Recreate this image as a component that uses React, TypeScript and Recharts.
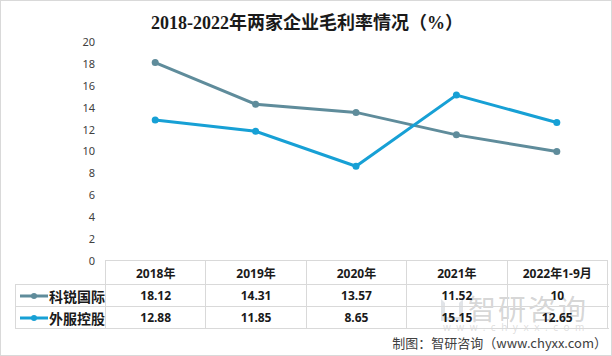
import React from "react";
import { LineChart, Line, XAxis, YAxis } from "recharts";

const categories = ["2018年", "2019年", "2020年", "2021年", "2022年1-9月"];
const keruiValues = [18.12, 14.31, 13.57, 11.52, 10];
const waifuValues = [12.88, 11.85, 8.65, 15.15, 12.65];
const yTicks = [0, 2, 4, 6, 8, 10, 12, 14, 16, 18, 20];
const seriesNames = ["科锐国际", "外服控股"];
const keruiLabels = ["18.12", "14.31", "13.57", "11.52", "10"];
const waifuLabels = ["12.88", "11.85", "8.65", "15.15", "12.65"];

const C1 = "#5f8c9b";
const C2 = "#17a0d5";

const data = categories.map((c, i) => ({ name: c, kr: keruiValues[i], wf: waifuValues[i] }));

const W = 612;
const H = 356;
const PLOT_LEFT = 105;
const PLOT_RIGHT = 607;
const COL_W = (PLOT_RIGHT - PLOT_LEFT) / categories.length;
const BORDER = "#d9d9d9";

const cellFont = '"Noto Sans", "Noto Sans CJK SC", sans-serif';

function Marker({ color }: { color: string }) {
  return (
    <svg width={30} height={10} style={{ display: "block" }}>
      <line x1={1} y1={5} x2={29} y2={5} stroke={color} strokeWidth={3} />
      <circle cx={15} cy={5} r={3} fill={color} />
    </svg>
  );
}

export default function App() {
  const rows = [
    { name: seriesNames[0], color: C1, labels: keruiLabels },
    { name: seriesNames[1], color: C2, labels: waifuLabels },
  ];
  return (
    <div
      style={{
        position: "absolute",
        left: 0,
        top: 0,
        width: W,
        height: H,
        background: "#fff",
        boxSizing: "border-box",
        border: "1px solid #d9d9d9",
        overflow: "hidden",
      }}
    >
      <div
        style={{
          position: "absolute",
          left: 0,
          top: 10,
          width: W,
          textAlign: "center",
          fontFamily: '"Liberation Serif", "Noto Sans CJK SC", serif',
          fontWeight: "bold",
          fontSize: 18,
          color: "#1a1a1a",
          lineHeight: "24px",
        }}
      >
        2018-2022年两家企业毛利率情况（%）
      </div>
      <div style={{ position: "absolute", left: -1, top: -1 }}>
        <LineChart
          width={W}
          height={H}
          data={data}
          margin={{ top: 42, right: W - PLOT_RIGHT, bottom: 95, left: 0 }}
        >
          <XAxis dataKey="name" hide padding={{ left: COL_W / 2, right: COL_W / 2 }} />
          <YAxis
            width={PLOT_LEFT}
            domain={[0, 20]}
            ticks={yTicks}
            axisLine={false}
            tickLine={false}
            interval={0}
            tick={{ fontSize: 11, fill: "#404040", fontFamily: cellFont, dx: -2 }}
          />
          <Line
            type="linear"
            dataKey="kr"
            stroke={C1}
            strokeWidth={3}
            dot={{ r: 3.5, fill: C1, stroke: C1, strokeWidth: 0 }}
            isAnimationActive={false}
          />
          <Line
            type="linear"
            dataKey="wf"
            stroke={C2}
            strokeWidth={3}
            dot={{ r: 3.5, fill: C2, stroke: C2, strokeWidth: 0 }}
            isAnimationActive={false}
          />
        </LineChart>
      </div>
      {/* data table */}
      <div style={{ position: "absolute", left: 0, top: 0, width: W, height: H, pointerEvents: "none" }}>
        {/* watermark (behind table text) */}
        <div
          style={{
            position: "absolute",
            left: 440,
            top: 298,
            width: 22,
            height: 22,
            border: "4px solid rgba(170,180,190,0.35)",
            boxSizing: "border-box",
            borderTopColor: "transparent",
          }}
        />
        <div
          style={{
            position: "absolute",
            left: 467,
            top: 291,
            fontFamily: '"Noto Sans CJK SC", sans-serif',
            fontSize: 28,
            color: "rgba(150,150,150,0.4)",
            letterSpacing: 2,
            lineHeight: "32px",
            whiteSpace: "nowrap",
          }}
        >
          智研咨询
        </div>
        <div
          style={{
            position: "absolute",
            left: 442,
            top: 321,
            fontFamily: '"Noto Sans", sans-serif',
            fontSize: 10,
            lineHeight: "10px",
            color: "rgba(160,160,160,0.35)",
            letterSpacing: 5.5,
            whiteSpace: "nowrap",
          }}
        >
          www.chyxx.com
        </div>
        {/* header row */}
        <div
          style={{
            position: "absolute",
            left: PLOT_LEFT - 1,
            top: 259,
            width: PLOT_RIGHT - PLOT_LEFT,
            height: 24,
            display: "flex",
            borderTop: `1px solid ${BORDER}`,
            borderLeft: `1px solid ${BORDER}`,
          }}
        >
          {categories.map((c) => (
            <div
              key={c}
              style={{
                width: COL_W,
                borderRight: `1px solid ${BORDER}`,
                boxSizing: "border-box",
                textAlign: "center",
                fontFamily: cellFont,
                fontWeight: "bold",
                fontSize: 12,
                lineHeight: "25px",
                color: "#1a1a1a",
              }}
            >
              {c}
            </div>
          ))}
        </div>
        {rows.map((r, ri) => (
          <div
            key={r.name}
            style={{
              position: "absolute",
              left: 14,
              top: 283 + ri * 22,
              width: PLOT_RIGHT - 14,
              height: 21,
              display: "flex",
              borderTop: `1px solid ${BORDER}`,
              borderLeft: `1px solid ${BORDER}`,
              borderBottom: ri === rows.length - 1 ? `1px solid ${BORDER}` : "none",
              boxSizing: "content-box",
            }}
          >
            <div
              style={{
                width: PLOT_LEFT - 15,
                borderRight: `1px solid ${BORDER}`,
                boxSizing: "border-box",
                display: "flex",
                alignItems: "center",
                paddingLeft: 3,
                fontFamily: '"Noto Sans CJK SC", sans-serif',
                fontWeight: "bold",
                fontSize: 14,
                color: "#1a1a1a",
              }}
            >
              <Marker color={r.color} />
              <span>{r.name}</span>
            </div>
            {r.labels.map((v, i) => (
              <div
                key={i}
                style={{
                  width: COL_W,
                  borderRight: `1px solid ${BORDER}`,
                  boxSizing: "border-box",
                  textAlign: "center",
                  fontFamily: cellFont,
                  fontWeight: "bold",
                  fontSize: 12,
                  lineHeight: "22px",
                  color: "#1a1a1a",
                }}
              >
                {v}
              </div>
            ))}
          </div>
        ))}
        {/* source */}
        <div
          style={{
            position: "absolute",
            right: 6,
            top: 333,
            fontFamily: '"Noto Sans CJK SC", sans-serif',
            fontSize: 13,
            color: "#404040",
            lineHeight: "18px",
            whiteSpace: "nowrap",
          }}
        >
          制图：智研咨询（www.chyxx.com）
        </div>
      </div>
    </div>
  );
}
